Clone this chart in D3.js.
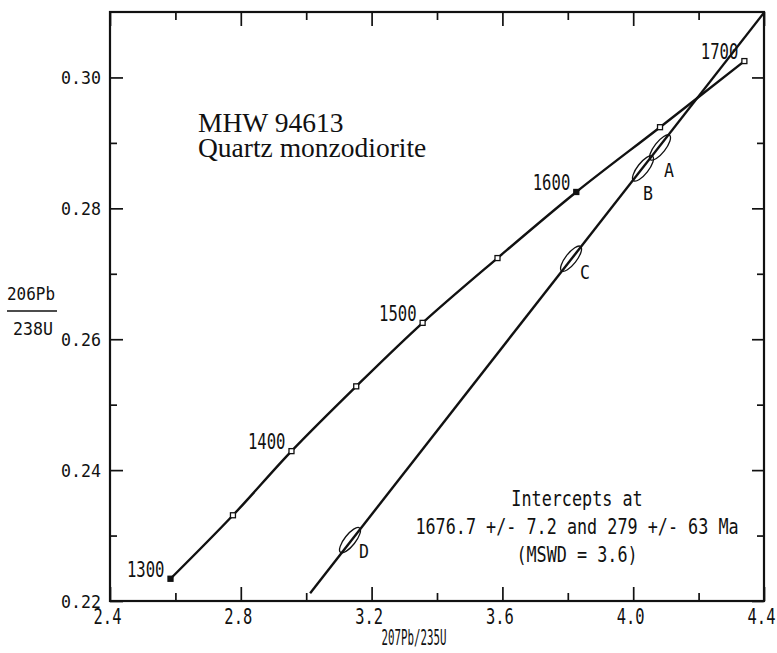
<!DOCTYPE html>
<html>
<head>
<meta charset="utf-8">
<script src="https://cdn.jsdelivr.net/npm/d3@7"></script>
<style>
  body { margin: 0; background: #fff; }
  svg { display: block; }
</style>
</head>
<body>
<svg id="chart" width="777" height="653"></svg>
<script>
// concordia age markers (Ma) and their ratios
const ages = [1300, 1350, 1400, 1450, 1500, 1550, 1600, 1650, 1700];
const ratio207 = [2.585, 2.776, 2.955, 3.153, 3.356, 3.585, 3.826, 4.082, 4.340];
const ratio206 = [0.2234, 0.2331, 0.2429, 0.2528, 0.2625, 0.2724, 0.2825, 0.2924, 0.3025];
const labelledAges = [1300, 1400, 1500, 1600, 1700];
const filledAges = [1300, 1600];

// analysed zircon fractions
const grainLabels = ["A", "B", "C", "D"];
const grainX = [4.082, 4.030, 3.810, 3.134];
const grainY = [0.2893, 0.2861, 0.2723, 0.2293];

// discordia chord endpoints
const discordiaX = [3.012, 4.4];
const discordiaY = [0.2212, 0.3099];

const xMajor = [2.4, 2.8, 3.2, 3.6, 4.0, 4.4];
const xMinor = [2.6, 3.0, 3.4, 3.8, 4.2];
const yMajor = [0.22, 0.24, 0.26, 0.28, 0.30];
const yMinor = [0.23, 0.25, 0.27, 0.29];

const sampleLines = ["MHW 94613", "Quartz monzodiorite"];
const interceptLines = [
  "Intercepts at",
  "1676.7 +/- 7.2 and 279 +/- 63 Ma",
  "(MSWD = 3.6)",
];

const svg = d3.select("#chart");
const box = { left: 110, right: 764, top: 12, bottom: 601 };
const x = d3.scaleLinear().domain([2.4, 4.4]).range([box.left, box.right]);
const y = d3.scaleLinear().domain([0.22, 0.31]).range([box.bottom, box.top]);

// plotter lettering is narrow and tall: a mono font sized to the pitch,
// stretched vertically to the cap height
function plotText(sel, str, px, py, pitch, capH, anchor) {
  const size = pitch / 0.602;
  const sy = capH / (0.729 * size);
  sel
    .attr("transform", `translate(${px},${py}) scale(1,${sy.toFixed(3)})`)
    .attr("x", 0).attr("y", 0).attr("dy", null)
    .attr("text-anchor", anchor || "start")
    .attr("font-family", "DejaVu Sans Mono")
    .attr("font-size", size.toFixed(2))
    .attr("fill", "#111")
    .text(str);
}

svg.append("rect").attr("width", 777).attr("height", 653).attr("fill", "#fff");

// axes: ticks point inward on all four sides
function drawAxis(axisFn, values, size, transform, labelled, fmt) {
  const g = svg.append("g").attr("transform", transform);
  const axis = axisFn
    .tickValues(values)
    .tickSizeInner(-size)
    .tickSizeOuter(0)
    .tickPadding(8)
    .tickFormat(labelled ? fmt : () => "");
  g.call(axis);
  g.select(".domain").remove();
  g.selectAll(".tick line").attr("stroke", "#111").attr("stroke-width", 1.7);
  if (!labelled) g.selectAll(".tick text").remove();
  return g;
}

const fmtX = d3.format(".1f");
const fmtY = d3.format(".2f");
const gx = drawAxis(d3.axisBottom(x), xMajor, 14, `translate(0,${box.bottom})`, true, fmtX);
drawAxis(d3.axisBottom(x), xMinor, 8, `translate(0,${box.bottom})`, false);
drawAxis(d3.axisTop(x), xMajor, 14, `translate(0,${box.top})`, false);
drawAxis(d3.axisTop(x), xMinor, 8, `translate(0,${box.top})`, false);
const gy = drawAxis(d3.axisLeft(y), yMajor, 13, `translate(${box.left},0)`, true, fmtY);
drawAxis(d3.axisLeft(y), yMinor, 7, `translate(${box.left},0)`, false);
drawAxis(d3.axisRight(y), yMajor, 12, `translate(${box.right},0)`, false);
drawAxis(d3.axisRight(y), yMinor, 7, `translate(${box.right},0)`, false);

gx.selectAll(".tick text").each(function (d) {
  plotText(d3.select(this), fmtX(d), -3, 23, 9.3, 16, "middle");
});
gy.selectAll(".tick text").each(function (d) {
  plotText(d3.select(this), fmtY(d), -9, 6.5, 10, 13, "end");
});

svg.append("rect")
  .attr("x", box.left).attr("y", box.top)
  .attr("width", box.right - box.left).attr("height", box.bottom - box.top)
  .attr("fill", "none").attr("stroke", "#111").attr("stroke-width", 2.2);

// axis titles
plotText(svg.append("text"), "207Pb/235U", 414, 645, 6.5, 16, "middle");
plotText(svg.append("text"), "206Pb", 31, 300, 9.6, 13, "middle");
svg.append("line").attr("x1", 7).attr("x2", 57).attr("y1", 311).attr("y2", 311)
  .attr("stroke", "#111").attr("stroke-width", 1.6);
plotText(svg.append("text"), "238U", 33, 335, 10, 13, "middle");

// concordia
const concordia = ages.map((a, i) => ({ age: a, x: ratio207[i], y: ratio206[i] }));
svg.append("path")
  .datum(concordia)
  .attr("d", d3.line().x((d) => x(d.x)).y((d) => y(d.y)).curve(d3.curveCatmullRom))
  .attr("fill", "none").attr("stroke", "#111").attr("stroke-width", 2.4);

// discordia chord
svg.append("line")
  .attr("x1", x(discordiaX[0])).attr("y1", y(discordiaY[0]))
  .attr("x2", x(discordiaX[1])).attr("y2", y(discordiaY[1]))
  .attr("stroke", "#111").attr("stroke-width", 2.4);

svg.selectAll("rect.age")
  .data(concordia)
  .join("rect")
  .attr("class", "age")
  .attr("x", (d) => x(d.x) - 2.5).attr("y", (d) => y(d.y) - 2.5)
  .attr("width", 5).attr("height", 5)
  .attr("fill", (d) => (filledAges.includes(d.age) ? "#111" : "#fff"))
  .attr("stroke", "#111").attr("stroke-width", 1.3);

svg.selectAll("text.age")
  .data(concordia.filter((d) => labelledAges.includes(d.age)))
  .join("text")
  .attr("class", "age")
  .each(function (d) {
    plotText(d3.select(this), String(d.age), x(d.x) - 6, y(d.y) - 2, 9.4, 16, "end");
  });

// error ellipses lie along the chord
const chordAngle = Math.atan2(
  y(discordiaY[1]) - y(discordiaY[0]),
  x(discordiaX[1]) - x(discordiaX[0])
) * 180 / Math.PI;
const grains = grainLabels.map((l, i) => ({ label: l, x: grainX[i], y: grainY[i] }));
const grainLabelOffset = { A: [4, 30], B: [0, 32], C: [9, 20], D: [9, 18] };

svg.selectAll("ellipse")
  .data(grains)
  .join("ellipse")
  .attr("transform", (d) => `translate(${x(d.x)},${y(d.y)}) rotate(${chordAngle})`)
  .attr("rx", 15.5).attr("ry", 5.5)
  .attr("fill", "none").attr("stroke", "#111").attr("stroke-width", 1.3);

svg.selectAll("text.grain")
  .data(grains)
  .join("text")
  .attr("class", "grain")
  .each(function (d) {
    const off = grainLabelOffset[d.label];
    plotText(d3.select(this), d.label, x(d.x) + off[0], y(d.y) + off[1], 10, 14);
  });

// sample annotation, one block of two lines
svg.append("text")
  .attr("font-family", "Liberation Serif")
  .attr("font-size", 27.5)
  .attr("fill", "#111")
  .selectAll("tspan")
  .data(sampleLines)
  .join("tspan")
  .attr("x", 198)
  .attr("y", (d, i) => 132 + i * 25)
  .text((d) => d);

svg.selectAll("text.intercept")
  .data(interceptLines)
  .join("text")
  .attr("class", "intercept")
  .each(function (d, i) {
    plotText(d3.select(this), d, 577, 506 + i * 28, 10.1, 15, "middle");
  });
</script>
</body>
</html>
